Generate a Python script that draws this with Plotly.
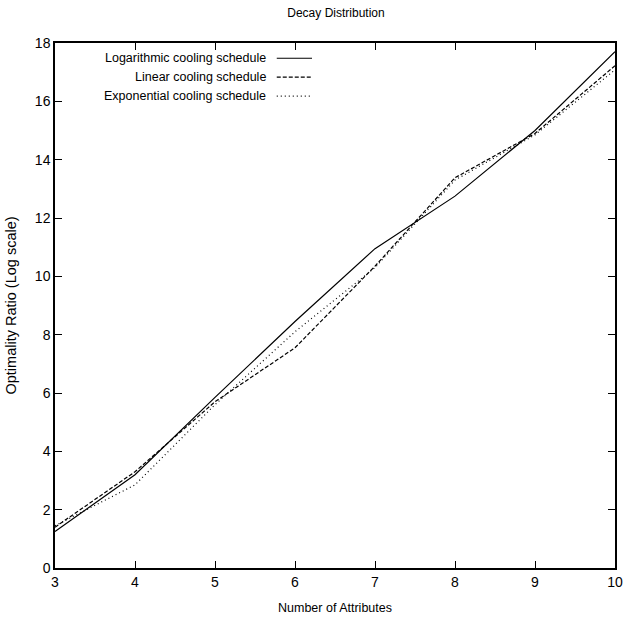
import plotly.graph_objects as go

attributes = [3, 4, 5, 6, 7, 8, 9, 10]
log_cooling = [1.25, 3.2, 5.85, 8.45, 10.95, 12.75, 15.0, 17.7]
linear_cooling = [1.4, 3.3, 5.7, 7.55, 10.35, 13.38, 14.9, 17.22]
exp_cooling = [1.45, 2.85, 5.6, 8.1, 10.3, 13.3, 14.85, 17.08]

series_names = ["Logarithmic cooling schedule", "Linear cooling schedule", "Exponential cooling schedule"]
series_values = [log_cooling, linear_cooling, exp_cooling]
series_dash = ["solid", "4px,2px", "1px,3px"]

FONT = "Liberation Sans, Arial, sans-serif"

fig = go.Figure()
for name, vals, dash in zip(series_names, series_values, series_dash):
    fig.add_trace(go.Scatter(x=attributes, y=vals, mode="lines", name=name,
                             line=dict(color="black", width=1.2, dash=dash),
                             showlegend=False))

# legend emulation (text right-aligned, sample line to the right)
leg_y = [0.971, 0.935, 0.899]
for name, dash, yy in zip(series_names, series_dash, leg_y):
    fig.add_annotation(x=0.38, y=yy, xref="paper", yref="paper", text=name,
                       showarrow=False, xanchor="right", yanchor="middle",
                       font=dict(family=FONT, size=12.5, color="black"))
    fig.add_shape(type="line", xref="paper", yref="paper", x0=0.396, x1=0.459, y0=yy, y1=yy,
                  line=dict(color="black", width=1.2, dash=dash))

fig.update_layout(
    width=628, height=626,
    margin=dict(l=55, r=13, t=43, b=58),
    paper_bgcolor="white", plot_bgcolor="white",
    font=dict(family=FONT, size=13, color="black"),
    title=dict(text="Decay Distribution", x=0.535, xanchor="center", y=0.979, yanchor="middle",
               font=dict(family=FONT, size=12)),
)
fig.update_xaxes(range=[3, 10], tickvals=attributes, showgrid=False, zeroline=False,
                 showline=True, linecolor="black", linewidth=1.5, mirror="ticks",
                 ticks="inside", ticklen=7, tickcolor="black", tickwidth=1,
                 automargin=False,
                 title=dict(text="Number of Attributes", font=dict(size=12.5)),
                 tickfont=dict(size=14))
fig.update_yaxes(range=[0, 18], dtick=2, showgrid=False, zeroline=False,
                 showline=True, linecolor="black", linewidth=1.5, mirror="ticks",
                 ticks="inside", ticklen=7, tickcolor="black", tickwidth=1,
                 automargin=False,
                 title=dict(text="Optimality Ratio (Log scale)", font=dict(size=14.5)),
                 tickfont=dict(size=14))

fig.write_html("out.html", config={"displayModeBar": False},
               post_script="document.body.style.margin='0';")
